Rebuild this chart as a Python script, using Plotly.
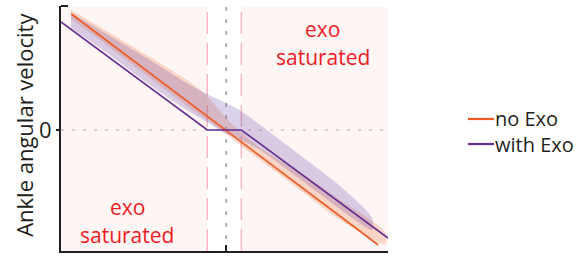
import plotly.graph_objects as go

# ---- data ----
orange_line_x = [2.2, 97.0]
orange_line_y = [1.16, -1.15]

purple_line_x = [-1.0, 44.2, 54.7, 100.0]
purple_line_y = [1.08, 0.0, 0.0, -1.08]

orange_band_x = [2.1, 11.05, 26.5, 38.8, 44.1, 50.0, 54.6, 60.5, 72.8, 85.2, 99.1]
orange_band_hi = [1.20, 1.03, 0.73, 0.48, 0.34, 0.12, -0.02, -0.18, -0.42, -0.70, -1.02]
orange_band_lo = [1.11, 0.90, 0.52, 0.22, 0.10, -0.04, -0.16, -0.30, -0.60, -0.90, -1.14]

purple_band_x = [2.1, 11.05, 26.5, 38.8, 44.1, 50.0, 54.6, 60.5, 72.8, 85.2, 95.1]
purple_band_hi = [1.17, 1.00, 0.70, 0.45, 0.36, 0.27, 0.19, 0.05, -0.25, -0.56, -0.88]
purple_band_lo = [1.02, 0.82, 0.45, 0.18, 0.08, -0.04, -0.10, -0.20, -0.49, -0.79, -1.00]

sat_low_end = 44.2
sat_high_start = 54.7
center_x = 50
x_range = [-1, 100]
y_range = [-1.21, 1.24]

series_names = ["no Exo", "with Exo"]
region_label = ["exo", "saturated"]
y_title = "Ankle angular velocity"

ORANGE = "#F15A22"
PURPLE = "#662D91"
RED = "#ED1C24"
DARK = "#231F20"
FONT = "Open Sans"

fig = go.Figure()

# bands
fig.add_trace(go.Scatter(
    x=orange_band_x + orange_band_x[::-1],
    y=orange_band_hi + orange_band_lo[::-1],
    fill="toself", fillcolor="rgba(241,125,70,0.27)",
    line=dict(width=0, shape="spline", smoothing=0.7), mode="lines",
    hoverinfo="skip", showlegend=False))
fig.add_trace(go.Scatter(
    x=purple_band_x + purple_band_x[::-1],
    y=purple_band_hi + purple_band_lo[::-1],
    fill="toself", fillcolor="rgba(105,75,170,0.25)",
    line=dict(width=0, shape="spline", smoothing=0.7), mode="lines",
    hoverinfo="skip", showlegend=False))

# lines
fig.add_trace(go.Scatter(x=orange_line_x, y=orange_line_y, mode="lines",
                         line=dict(color=ORANGE, width=1.6), name=series_names[0],
                         showlegend=False))
fig.add_trace(go.Scatter(x=purple_line_x, y=purple_line_y, mode="lines",
                         line=dict(color=PURPLE, width=1.6), name=series_names[1],
                         showlegend=False))

shapes = []
# saturated background regions
shapes.append(dict(type="rect", xref="x", yref="y", x0=x_range[0], x1=sat_low_end,
                   y0=y_range[0], y1=y_range[1] - 0.01, fillcolor="#FEF5F5",
                   line=dict(width=0), layer="below"))
shapes.append(dict(type="rect", xref="x", yref="y", x0=sat_high_start, x1=x_range[1],
                   y0=y_range[0], y1=y_range[1] - 0.01, fillcolor="#FEF5F5",
                   line=dict(width=0), layer="below"))
# dashed boundaries
for xv in (sat_low_end, sat_high_start):
    shapes.append(dict(type="line", xref="x", yref="y", x0=xv, x1=xv,
                       y0=y_range[0], y1=y_range[1] - 0.01,
                       line=dict(color="#F5B5C0", width=1.4, dash="22px,9px"),
                       layer="below"))
# dotted zero lines
shapes.append(dict(type="line", xref="x", yref="y", x0=center_x, x1=center_x,
                   y0=y_range[0], y1=y_range[1] - 0.01,
                   line=dict(color="#8A8A8A", width=1.2, dash="4px,8px"), layer="below"))
shapes.append(dict(type="line", xref="x", yref="y", x0=x_range[0], x1=x_range[1],
                   y0=0, y1=0,
                   line=dict(color="#ADADAD", width=1.2, dash="3px,8px"), layer="below"))
# top-left tick
shapes.append(dict(type="line", xref="paper", yref="paper", x0=0, x1=7 / 327,
                   y0=1, y1=1, line=dict(color=DARK, width=2)))

# legend (manual)
leg_y = [0.5388, 0.4367]
for i, c in enumerate([ORANGE, PURPLE]):
    shapes.append(dict(type="line", xref="paper", yref="paper",
                       x0=1.2446, x1=1.3242, y0=leg_y[i], y1=leg_y[i],
                       line=dict(color=c, width=2.2)))

annotations = []
for i, name in enumerate(series_names):
    annotations.append(dict(xref="paper", yref="paper", x=1.322, y=leg_y[i],
                            xanchor="left", yanchor="middle", text=name,
                            showarrow=False, font=dict(family=FONT, size=20, color=DARK)))

# region labels
right_cx = (sat_high_start + x_range[1]) / 2 + 2.5
left_cx = (x_range[0] + sat_low_end) / 2 - 2.2
annotations.append(dict(xref="x", yref="y", x=right_cx, y=1.01,
                        text=region_label[0], showarrow=False,
                        font=dict(family=FONT, size=21, color=RED)))
annotations.append(dict(xref="x", yref="y", x=right_cx, y=0.73,
                        text=region_label[1], showarrow=False,
                        font=dict(family=FONT, size=21, color=RED)))
annotations.append(dict(xref="x", yref="y", x=left_cx, y=-0.77,
                        text=region_label[0], showarrow=False,
                        font=dict(family=FONT, size=21, color=RED)))
annotations.append(dict(xref="x", yref="y", x=left_cx, y=-1.05,
                        text=region_label[1], showarrow=False,
                        font=dict(family=FONT, size=21, color=RED)))

# y title
annotations.append(dict(xref="paper", yref="paper", x=-0.113, y=0.515,
                        text=y_title, textangle=-90, showarrow=False,
                        xanchor="center", yanchor="middle",
                        font=dict(family=FONT, size=22, color=DARK)))

fig.update_layout(
    width=587, height=256,
    margin=dict(l=61, r=199, t=6, b=5, autoexpand=False),
    paper_bgcolor="white", plot_bgcolor="white",
    showlegend=False,
    shapes=shapes, annotations=annotations,
    xaxis=dict(range=x_range, showline=True, linecolor=DARK, linewidth=2,
               ticks="inside", tickvals=[center_x, x_range[1]], ticklen=6,
               tickwidth=2, tickcolor=DARK, showticklabels=False,
               showgrid=False, zeroline=False, fixedrange=True, automargin=False),
    yaxis=dict(range=y_range, showline=True, linecolor=DARK, linewidth=2,
               ticks="outside", tickvals=[0], ticktext=["0"], ticklen=3,
               tickwidth=1.5, tickcolor=DARK,
               tickfont=dict(family=FONT, size=22, color=DARK),
               showgrid=False, zeroline=False, fixedrange=True, automargin=False),
)

fig.write_html("out.html", config={"displayModeBar": False},
               post_script="document.body.style.margin='0';document.body.style.overflow='hidden';")
